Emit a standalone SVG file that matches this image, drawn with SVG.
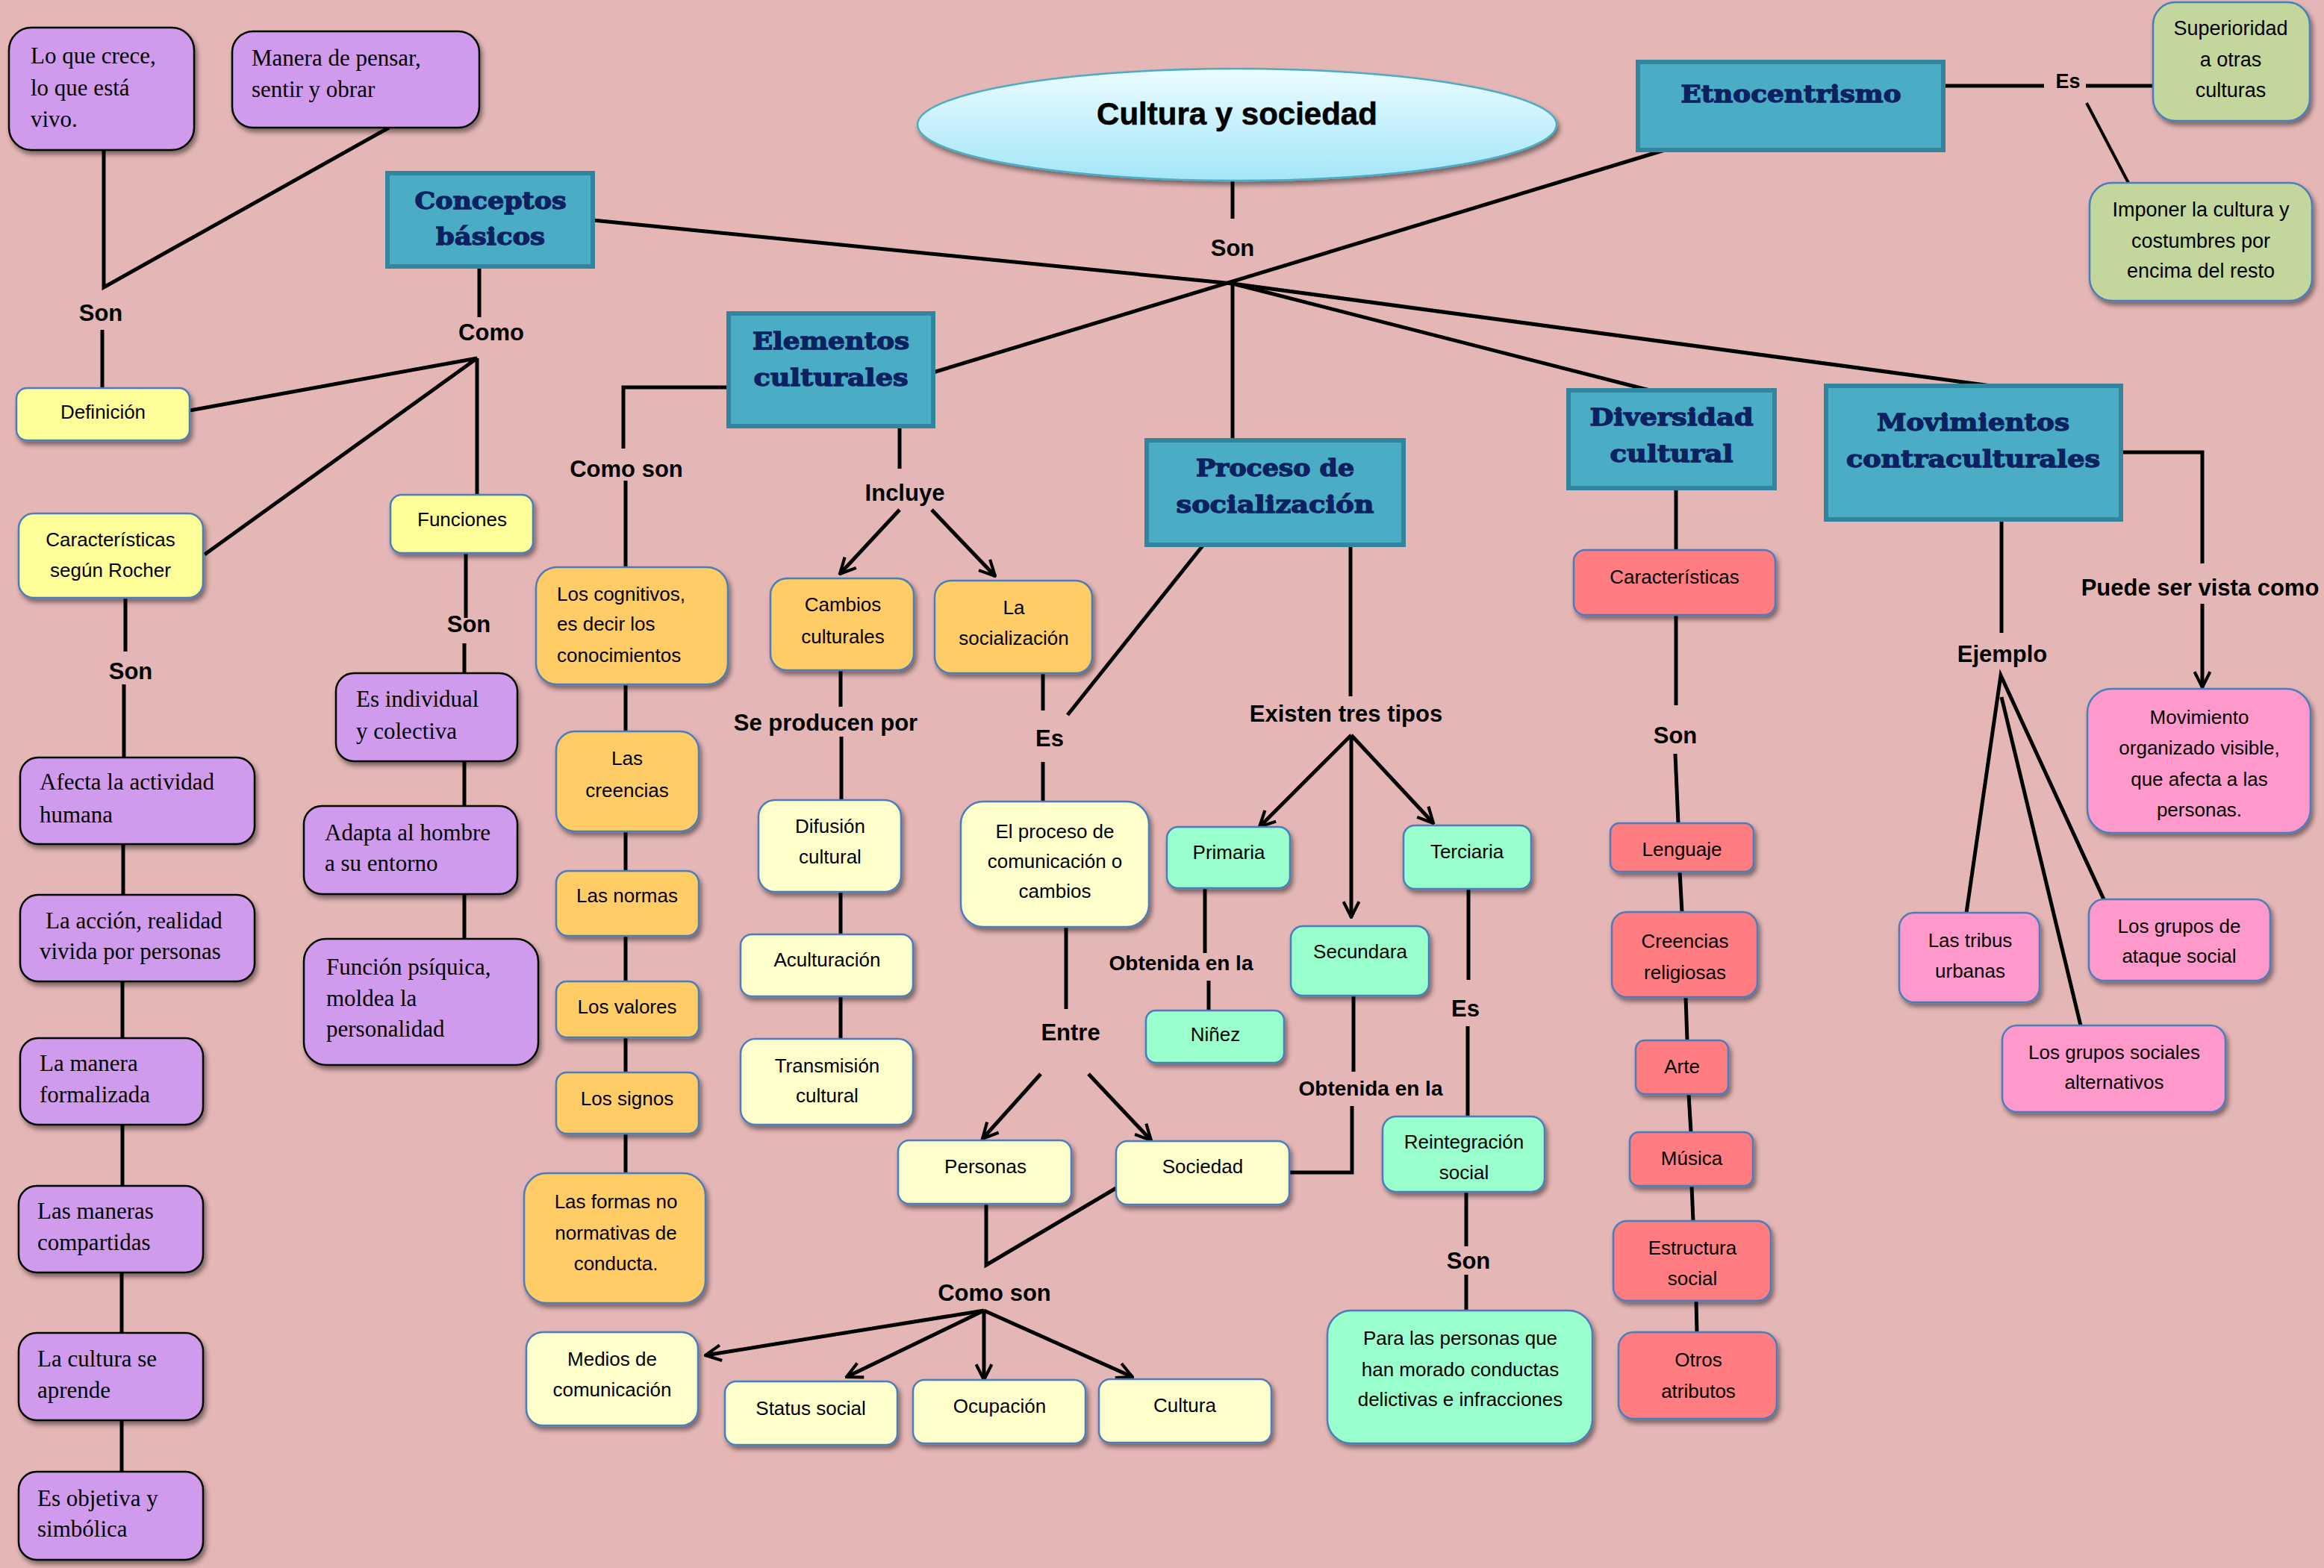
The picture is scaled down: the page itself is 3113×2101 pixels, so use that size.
<svg xmlns="http://www.w3.org/2000/svg" width="3113" height="2101" viewBox="0 0 3113 2101">
<defs>
<filter id="sh" x="-10%" y="-10%" width="130%" height="140%"><feDropShadow dx="3" dy="5" stdDeviation="3" flood-color="#000" flood-opacity="0.45"/></filter>
<linearGradient id="tg" x1="0" y1="0" x2="0" y2="1"><stop offset="0" stop-color="#ebfcff"/><stop offset="1" stop-color="#a3e6f8"/></linearGradient>
<marker id="ar" viewBox="0 0 12 12" refX="11" refY="6" markerWidth="5" markerHeight="5" orient="auto" markerUnits="strokeWidth"><path d="M1,1 L11,6 L1,11" fill="none" stroke="#000" stroke-width="2"/></marker>
</defs>
<style>
.n{filter:url(#sh)}
.hdr{fill:#4bacc6;stroke:#31859c;stroke-width:6}
.pur{fill:#d09bec;stroke:#000;stroke-width:2.5}
.yel{fill:#ffff99;stroke:#4a7ebb;stroke-width:2.5}
.org{fill:#ffcc66;stroke:#4a7ebb;stroke-width:2.5}
.lye{fill:#ffffcc;stroke:#4a7ebb;stroke-width:2.5}
.mint{fill:#99ffcc;stroke:#4a7ebb;stroke-width:2.5}
.red{fill:#ff7c80;stroke:#4a7ebb;stroke-width:2.5}
.pnk{fill:#ff99cc;stroke:#4a7ebb;stroke-width:2.5}
.grn{fill:#c3d69b;stroke:#4a7ebb;stroke-width:2.5}
text{fill:#000}
.s{font-family:"Liberation Sans",Arial,sans-serif;font-size:26px;text-anchor:middle}
.sl{font-family:"Liberation Sans",Arial,sans-serif;font-size:26px}
.g{font-family:"Liberation Sans",Arial,sans-serif;font-size:27px;text-anchor:middle}
.sr{font-family:"Liberation Serif","Times New Roman",serif;font-size:31px}
.lb{font-family:"Liberation Sans",Arial,sans-serif;font-size:31px;font-weight:bold;text-anchor:middle}
.lb2{font-family:"Liberation Sans",Arial,sans-serif;font-size:28px;font-weight:bold;text-anchor:middle}
.hd{font-family:"DejaVu Serif","Liberation Serif",serif;font-size:32px;font-weight:bold;fill:#0b2160;stroke:#0b2160;stroke-width:1.3;text-anchor:middle}
.ttl{font-family:"Liberation Sans",Arial,sans-serif;font-size:42px;font-weight:bold;text-anchor:middle;stroke:#000;stroke-width:0.6}
.c{fill:none;stroke:#000;stroke-width:5;stroke-linejoin:miter}
.a{marker-end:url(#ar)}
</style>
<rect width="3113" height="2101" fill="#e5b6b6"/>

<g id="connectors">
<path class="c" d="M139,201 L139,385 L521,171"/>
<path class="c" d="M137,442 L137,520"/>
<path class="c" d="M642,357 L642,425"/>
<path class="c" d="M254,550 L639,480 L274,743"/>
<path class="c" d="M639,480 L639,663"/>
<path class="c" d="M168,801 L168,873"/>
<path class="c" d="M166,917 L166,1015"/>
<path class="c" d="M165,1131 L165,1199"/>
<path class="c" d="M164,1315 L164,1391"/>
<path class="c" d="M164,1507 L164,1589"/>
<path class="c" d="M163,1705 L163,1786"/>
<path class="c" d="M163,1903 L163,1972"/>
<path class="c" d="M624,741 L624,828"/>
<path class="c" d="M622,862 L622,902"/>
<path class="c" d="M622,1020 L622,1080"/>
<path class="c" d="M622,1198 L622,1258"/>
<path class="c" d="M1651,242 L1651,293"/>
<path class="c" d="M794,295 L1651,380 L2667,517"/>
<path class="c" d="M1651,380 L2210,523"/>
<path class="c" d="M2230,201 L1250,499"/>
<path class="c" d="M1651,380 L1651,590"/>
<path class="c" d="M2603,115 L2738,115"/>
<path class="c" d="M2794,115 L2884,115"/>
<path class="c" style="stroke-width:4" d="M2795,138 L2851,245"/>
<path class="c" d="M976,519 L835,519 L835,601"/>
<path class="c" d="M838,644 L838,760"/>
<path class="c" d="M838,917 L838,980"/>
<path class="c" d="M838,1114 L838,1167"/>
<path class="c" d="M838,1254 L838,1315"/>
<path class="c" d="M838,1390 L838,1437"/>
<path class="c" d="M838,1519 L838,1572"/>
<path class="c" d="M1205,571 L1205,628"/>
<path class="c a" d="M1205,683 L1125,769"/>
<path class="c a" d="M1248,683 L1333,772"/>
<path class="c" d="M1126,898 L1126,947"/>
<path class="c" d="M1127,987 L1127,1072"/>
<path class="c" d="M1126,1195 L1126,1252"/>
<path class="c" d="M1126,1335 L1126,1392"/>
<path class="c" d="M1397,902 L1397,952"/>
<path class="c" d="M1397,1021 L1397,1074"/>
<path class="c" d="M1612,730 L1430,958"/>
<path class="c" d="M1428,1242 L1428,1352"/>
<path class="c a" d="M1394,1439 L1316,1526"/>
<path class="c a" d="M1458,1439 L1542,1528"/>
<path class="c" d="M1321,1613 L1321,1695 L1495,1592"/>
<path class="c a" d="M1318,1756 L945,1816"/>
<path class="c a" d="M1318,1756 L1134,1845"/>
<path class="c a" d="M1318,1756 L1318,1849"/>
<path class="c a" d="M1318,1756 L1517,1845"/>
<path class="c" d="M1809,730 L1809,933"/>
<path class="c a" d="M1810,985 L1687,1108"/>
<path class="c a" d="M1810,985 L1810,1229"/>
<path class="c a" d="M1810,985 L1920,1103"/>
<path class="c" d="M1614,1190 L1614,1277"/>
<path class="c" d="M1619,1314 L1619,1354"/>
<path class="c" d="M1813,1334 L1813,1436"/>
<path class="c" d="M1811,1482 L1811,1571 L1728,1571"/>
<path class="c" d="M1967,1191 L1967,1313"/>
<path class="c" d="M1966,1375 L1966,1496"/>
<path class="c" d="M1964,1597 L1964,1670"/>
<path class="c" d="M1964,1708 L1964,1756"/>
<path class="c" d="M2245,654 L2245,737"/>
<path class="c" d="M2245,824 L2245,945"/>
<path class="c" d="M2244,1010 L2248,1103"/>
<path class="c" d="M2250,1168 L2253,1222"/>
<path class="c" d="M2258,1336 L2260,1394"/>
<path class="c" d="M2262,1466 L2265,1517"/>
<path class="c" d="M2266,1589 L2268,1636"/>
<path class="c" d="M2272,1743 L2273,1785"/>
<path class="c" d="M2681,696 L2681,848"/>
<path class="c" d="M2634,1223 L2680,905 L2818,1205"/>
<path class="c" d="M2681,934 L2787,1374"/>
<path class="c" d="M2841,606 L2950,606 L2950,755"/>
<path class="c a" d="M2950,809 L2950,921"/>
</g>

<g id="n-title"><ellipse cx="1657" cy="167" rx="428" ry="75" fill="url(#tg)" stroke="#4bacc6" stroke-width="2.5" class="n"/><text class="ttl" x="1657" y="167">Cultura y sociedad</text></g>

<g id="n-lo"><rect class="n pur" x="12" y="37" width="248" height="164" rx="30"/><text class="sr" x="41"><tspan x="41" y="85">Lo que crece,</tspan><tspan x="41" y="128">lo que está</tspan><tspan x="41" y="170">vivo.</tspan></text></g>
<g id="n-manera"><rect class="n pur" x="311" y="42" width="331" height="129" rx="28"/><text class="sr"><tspan x="337" y="88">Manera de pensar,</tspan><tspan x="337" y="130">sentir y obrar</tspan></text></g>
<g id="n-def"><rect class="n yel" x="22" y="520" width="232" height="70" rx="14"/><text class="s" x="138" y="561">Definición</text></g>
<g id="n-conceptos"><rect class="hdr" x="519" y="232" width="275" height="125"/><text class="hd"><tspan x="657" y="280" textLength="203" lengthAdjust="spacingAndGlyphs">Conceptos</tspan></text><text class="hd"><tspan x="657" y="328" textLength="146" lengthAdjust="spacingAndGlyphs">básicos</tspan></text></g>
<g id="n-carac"><rect class="n yel" x="25" y="688" width="247" height="113" rx="20"/><text class="s"><tspan x="148" y="732">Características</tspan><tspan x="148" y="773">según Rocher</tspan></text></g>
<g id="n-func"><rect class="n yel" x="523" y="663" width="191" height="78" rx="15"/><text class="s" x="619" y="705">Funciones</text></g>
<g id="n-afecta"><rect class="n pur" x="27" y="1015" width="314" height="116" rx="24"/><text class="sr"><tspan x="53" y="1058">Afecta la actividad</tspan><tspan x="53" y="1102">humana</tspan></text></g>
<g id="n-accion"><rect class="n pur" x="27" y="1199" width="314" height="116" rx="24"/><text class="sr"><tspan x="61" y="1244">La acción, realidad</tspan><tspan x="53" y="1285">vivida por personas</tspan></text></g>
<g id="n-formalizada"><rect class="n pur" x="27" y="1391" width="245" height="116" rx="24"/><text class="sr"><tspan x="53" y="1435">La manera</tspan><tspan x="53" y="1477">formalizada</tspan></text></g>
<g id="n-compartidas"><rect class="n pur" x="25" y="1589" width="247" height="116" rx="24"/><text class="sr"><tspan x="50" y="1633">Las maneras</tspan><tspan x="50" y="1675">compartidas</tspan></text></g>
<g id="n-aprende"><rect class="n pur" x="25" y="1786" width="247" height="117" rx="24"/><text class="sr"><tspan x="50" y="1831">La cultura se</tspan><tspan x="50" y="1873">aprende</tspan></text></g>
<g id="n-objetiva"><rect class="n pur" x="25" y="1972" width="247" height="118" rx="24"/><text class="sr"><tspan x="50" y="2018">Es objetiva y</tspan><tspan x="50" y="2059">simbólica</tspan></text></g>
<g id="n-indiv"><rect class="n pur" x="450" y="902" width="243" height="118" rx="24"/><text class="sr"><tspan x="477" y="947">Es individual</tspan><tspan x="477" y="990">y colectiva</tspan></text></g>
<g id="n-adapta"><rect class="n pur" x="407" y="1080" width="286" height="118" rx="24"/><text class="sr"><tspan x="435" y="1126">Adapta al hombre</tspan><tspan x="435" y="1167">a su entorno</tspan></text></g>
<g id="n-psiquica"><rect class="n pur" x="407" y="1258" width="314" height="169" rx="30"/><text class="sr"><tspan x="437" y="1306">Función psíquica,</tspan><tspan x="437" y="1348">moldea la</tspan><tspan x="437" y="1389">personalidad</tspan></text></g>

<g id="n-etno"><rect class="hdr" x="2194" y="83" width="409" height="118"/><text class="hd"><tspan x="2399" y="137" textLength="295" lengthAdjust="spacingAndGlyphs">Etnocentrismo</tspan></text></g>
<g id="n-superioridad"><rect class="n grn" x="2884" y="3" width="210" height="159" rx="30"/><text class="g"><tspan x="2988" y="47">Superioridad</tspan><tspan x="2988" y="89">a otras</tspan><tspan x="2988" y="130">culturas</tspan></text></g>
<g id="n-imponer"><rect class="n grn" x="2799" y="245" width="298" height="158" rx="30"/><text class="g"><tspan x="2948" y="290">Imponer la cultura y</tspan><tspan x="2948" y="332">costumbres  por</tspan><tspan x="2948" y="372">encima del resto</tspan></text></g>

<g id="n-elementos"><rect class="hdr" x="976" y="420" width="274" height="151"/><text class="hd"><tspan x="1113" y="468" textLength="210" lengthAdjust="spacingAndGlyphs">Elementos</tspan></text><text class="hd"><tspan x="1113" y="517" textLength="207" lengthAdjust="spacingAndGlyphs">culturales</tspan></text></g>
<g id="n-cognitivos"><rect class="n org" x="718" y="760" width="257" height="157" rx="28"/><text class="sl"><tspan x="746" y="805">Los cognitivos,</tspan><tspan x="746" y="845">es decir los</tspan><tspan x="746" y="887">conocimientos</tspan></text></g>
<g id="n-creencias"><rect class="n org" x="745" y="980" width="191" height="134" rx="25"/><text class="s"><tspan x="840" y="1025">Las</tspan><tspan x="840" y="1068">creencias</tspan></text></g>
<g id="n-normas"><rect class="n org" x="745" y="1167" width="191" height="87" rx="16"/><text class="s" x="840" y="1209">Las normas</text></g>
<g id="n-valores"><rect class="n org" x="745" y="1315" width="191" height="75" rx="14"/><text class="s" x="840" y="1358">Los valores</text></g>
<g id="n-signos"><rect class="n org" x="745" y="1437" width="191" height="82" rx="14"/><text class="s" x="840" y="1481">Los signos</text></g>
<g id="n-formas"><rect class="n org" x="702" y="1572" width="243" height="174" rx="30"/><text class="s"><tspan x="825" y="1619">Las formas no</tspan><tspan x="825" y="1661">normativas de</tspan><tspan x="825" y="1702">conducta.</tspan></text></g>
<g id="n-cambios"><rect class="n org" x="1032" y="775" width="192" height="123" rx="22"/><text class="s"><tspan x="1129" y="819">Cambios</tspan><tspan x="1129" y="862">culturales</tspan></text></g>
<g id="n-lasocializacion"><rect class="n org" x="1252" y="778" width="211" height="124" rx="22"/><text class="s"><tspan x="1358" y="823">La</tspan><tspan x="1358" y="864">socialización</tspan></text></g>
<g id="n-difusion"><rect class="n lye" x="1016" y="1072" width="191" height="123" rx="22"/><text class="s"><tspan x="1112" y="1116">Difusión</tspan><tspan x="1112" y="1157">cultural</tspan></text></g>
<g id="n-aculturacion"><rect class="n lye" x="992" y="1252" width="231" height="83" rx="15"/><text class="s" x="1108" y="1295">Aculturación</text></g>
<g id="n-transmision"><rect class="n lye" x="992" y="1392" width="231" height="115" rx="20"/><text class="s"><tspan x="1108" y="1437">Transmisión</tspan><tspan x="1108" y="1477">cultural</tspan></text></g>
<g id="n-elproceso"><rect class="n lye" x="1287" y="1074" width="252" height="168" rx="30"/><text class="s"><tspan x="1413" y="1123">El proceso de</tspan><tspan x="1413" y="1163">comunicación o</tspan><tspan x="1413" y="1203">cambios</tspan></text></g>
<g id="n-personas"><rect class="n lye" x="1203" y="1528" width="232" height="85" rx="15"/><text class="s" x="1320" y="1572">Personas</text></g>
<g id="n-sociedad"><rect class="n lye" x="1495" y="1529" width="232" height="85" rx="15"/><text class="s" x="1611" y="1572">Sociedad</text></g>
<g id="n-medios"><rect class="n lye" x="705" y="1785" width="230" height="125" rx="22"/><text class="s"><tspan x="820" y="1830">Medios de</tspan><tspan x="820" y="1871">comunicación</tspan></text></g>
<g id="n-status"><rect class="n lye" x="971" y="1851" width="231" height="85" rx="15"/><text class="s" x="1086" y="1896">Status social</text></g>
<g id="n-ocupacion"><rect class="n lye" x="1223" y="1849" width="231" height="85" rx="15"/><text class="s" x="1339" y="1893">Ocupación</text></g>
<g id="n-cultura"><rect class="n lye" x="1472" y="1848" width="231" height="85" rx="15"/><text class="s" x="1587" y="1892">Cultura</text></g>

<g id="n-proceso"><rect class="hdr" x="1536" y="590" width="344" height="140"/><text class="hd"><tspan x="1708" y="638" textLength="212" lengthAdjust="spacingAndGlyphs">Proceso de</tspan></text><text class="hd"><tspan x="1708" y="687" textLength="265" lengthAdjust="spacingAndGlyphs">socialización</tspan></text></g>
<g id="n-primaria"><rect class="n mint" x="1563" y="1108" width="165" height="82" rx="15"/><text class="s" x="1646" y="1151">Primaria</text></g>
<g id="n-ninez"><rect class="n mint" x="1535" y="1354" width="185" height="70" rx="13"/><text class="s" x="1628" y="1395">Niñez</text></g>
<g id="n-secundara"><rect class="n mint" x="1729" y="1241" width="185" height="93" rx="16"/><text class="s" x="1822" y="1284">Secundara</text></g>
<g id="n-terciaria"><rect class="n mint" x="1880" y="1106" width="171" height="85" rx="15"/><text class="s" x="1965" y="1150">Terciaria</text></g>
<g id="n-reintegracion"><rect class="n mint" x="1852" y="1496" width="217" height="101" rx="18"/><text class="s"><tspan x="1961" y="1539">Reintegración</tspan><tspan x="1961" y="1580">social</tspan></text></g>
<g id="n-para"><rect class="n mint" x="1778" y="1756" width="355" height="178" rx="32"/><text class="s"><tspan x="1956" y="1802">Para las personas que</tspan><tspan x="1956" y="1844">han morado conductas</tspan><tspan x="1956" y="1884">delictivas e infracciones</tspan></text></g>

<g id="n-diversidad"><rect class="hdr" x="2101" y="523" width="276" height="131"/><text class="hd"><tspan x="2239" y="570" textLength="219" lengthAdjust="spacingAndGlyphs">Diversidad</tspan></text><text class="hd"><tspan x="2239" y="619" textLength="165" lengthAdjust="spacingAndGlyphs">cultural</tspan></text></g>
<g id="n-caracteristicas"><rect class="n red" x="2108" y="737" width="270" height="87" rx="15"/><text class="s" x="2243" y="782">Características</text></g>
<g id="n-lenguaje"><rect class="n red" x="2157" y="1103" width="192" height="65" rx="12"/><text class="s" x="2253" y="1147">Lenguaje</text></g>
<g id="n-creencias2"><rect class="n red" x="2159" y="1222" width="195" height="114" rx="20"/><text class="s"><tspan x="2257" y="1270">Creencias</tspan><tspan x="2257" y="1312">religiosas</tspan></text></g>
<g id="n-arte"><rect class="n red" x="2191" y="1394" width="124" height="72" rx="12"/><text class="s" x="2253" y="1438">Arte</text></g>
<g id="n-musica"><rect class="n red" x="2183" y="1517" width="165" height="72" rx="12"/><text class="s" x="2266" y="1561">Música</text></g>
<g id="n-estructura"><rect class="n red" x="2161" y="1636" width="211" height="107" rx="18"/><text class="s"><tspan x="2267" y="1681">Estructura</tspan><tspan x="2267" y="1722">social</tspan></text></g>
<g id="n-otros"><rect class="n red" x="2168" y="1785" width="212" height="116" rx="20"/><text class="s"><tspan x="2275" y="1831">Otros</tspan><tspan x="2275" y="1873">atributos</tspan></text></g>

<g id="n-movimientos"><rect class="hdr" x="2446" y="517" width="395" height="179"/><text class="hd"><tspan x="2643" y="577" textLength="258" lengthAdjust="spacingAndGlyphs">Movimientos</tspan></text><text class="hd"><tspan x="2643" y="626" textLength="340" lengthAdjust="spacingAndGlyphs">contraculturales</tspan></text></g>
<g id="n-movorg"><rect class="n pnk" x="2796" y="923" width="299" height="193" rx="32"/><text class="s"><tspan x="2946" y="970">Movimiento</tspan><tspan x="2946" y="1011">organizado visible,</tspan><tspan x="2946" y="1053">que afecta a las</tspan><tspan x="2946" y="1094">personas.</tspan></text></g>
<g id="n-tribus"><rect class="n pnk" x="2544" y="1223" width="188" height="120" rx="20"/><text class="s"><tspan x="2639" y="1269">Las tribus</tspan><tspan x="2639" y="1310">urbanas</tspan></text></g>
<g id="n-ataque"><rect class="n pnk" x="2798" y="1205" width="243" height="109" rx="20"/><text class="s"><tspan x="2919" y="1250">Los grupos de</tspan><tspan x="2919" y="1290">ataque social</tspan></text></g>
<g id="n-alternativos"><rect class="n pnk" x="2682" y="1374" width="299" height="116" rx="20"/><text class="s"><tspan x="2832" y="1419">Los grupos sociales</tspan><tspan x="2832" y="1459">alternativos</tspan></text></g>

<g id="labels">
<text class="lb" x="135" y="430">Son</text>
<text class="lb" x="658" y="456">Como</text>
<text class="lb" x="1651" y="343">Son</text>
<text class="lb" x="175" y="910">Son</text>
<text class="lb" x="628" y="847">Son</text>
<text class="lb" x="839" y="639">Como son</text>
<text class="lb" x="1212" y="671">Incluye</text>
<text class="lb" x="1106" y="979">Se producen por</text>
<text class="lb" x="1406" y="1000">Es</text>
<text class="lb" x="1434" y="1394">Entre</text>
<text class="lb" x="1332" y="1743">Como son</text>
<text class="lb" x="1803" y="967">Existen tres tipos</text>
<text class="lb2" x="1582" y="1300">Obtenida en la</text>
<text class="lb2" x="1836" y="1468">Obtenida en la</text>
<text class="lb" x="1963" y="1362">Es</text>
<text class="lb" x="1967" y="1700">Son</text>
<text class="lb" x="2244" y="996">Son</text>
<text class="lb" x="2682" y="887">Ejemplo</text>
<text class="lb" x="2947" y="798">Puede ser vista como</text>
<text class="lb" style="font-size:27px" x="2770" y="118">Es</text>
</g>
</svg>
